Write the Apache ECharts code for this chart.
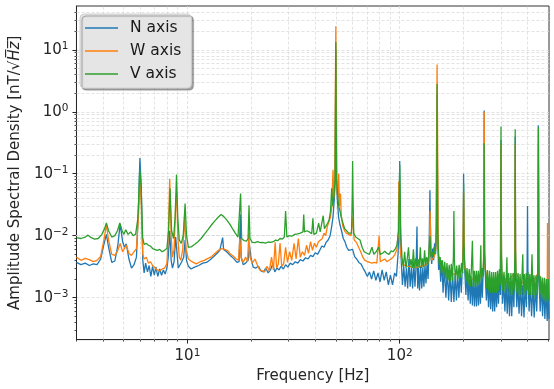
<!DOCTYPE html>
<html>
<head>
<meta charset="utf-8">
<script src="https://cdn.jsdelivr.net/npm/echarts@6/dist/echarts.min.js"></script>
<style>
  html, body { margin: 0; padding: 0; background: #fff; }
  #chart { width: 554px; height: 389px; }
</style>
</head>
<body>
<div id="chart"></div>
<script>
// axis ranges
const xRange = [3, 505];
const yRange = [2.1e-4, 51];
const majorX = [10, 100];
const majorY = [1e-3, 1e-2, 1e-1, 1, 10];
const minorX = [3, 4, 5, 6, 7, 8, 9, 20, 30, 40, 50, 60, 70, 80, 90, 200, 300, 400, 500];
const minorY = [3e-4, 4e-4, 5e-4, 6e-4, 7e-4, 8e-4, 9e-4,
  2e-3, 3e-3, 4e-3, 5e-3, 6e-3, 7e-3, 8e-3, 9e-3,
  2e-2, 3e-2, 4e-2, 5e-2, 6e-2, 7e-2, 8e-2, 9e-2,
  0.2, 0.3, 0.4, 0.5, 0.6, 0.7, 0.8, 0.9,
  2, 3, 4, 5, 6, 7, 8, 9, 20, 30, 40];

const seriesNames = ['N axis', 'W axis', 'V axis'];

// [frequency Hz, ASD nT/sqrt(Hz)]
const nAxis = [
  [3.0,0.0037],[3.15,0.0034],[3.3,0.0036],[3.45,0.0033],[3.6,0.0035],[3.75,0.0034],[3.9,0.0042],[4.05,0.0075],[4.15,0.0105],[4.25,0.0065],
  [4.4,0.0037],[4.55,0.0039],[4.7,0.007],[4.82,0.0155],[4.95,0.008],[5.05,0.0065],[5.15,0.0074],[5.3,0.0042],[5.45,0.003],[5.6,0.0034],
  [5.75,0.0045],[5.88,0.03],[5.97,0.18],[6.06,0.06],[6.16,0.004],[6.25,0.0025],[6.35,0.0036],[6.48,0.0026],[6.6,0.0033],[6.72,0.0022],
  [6.85,0.0032],[6.98,0.0023],[7.1,0.0031],[7.25,0.0022],[7.4,0.0029],[7.55,0.0023],[7.7,0.0028],[7.85,0.0024],[8.0,0.003],[8.12,0.0045],
  [8.25,0.012],[8.38,0.004],[8.5,0.003],[8.65,0.0038],[8.8,0.0095],[8.9,0.006],[9.05,0.003],[9.2,0.0028],[9.4,0.0038],[9.6,0.0045],
  [9.75,0.0085],[9.9,0.004],[10.1,0.0032],[10.4,0.0029],[10.8,0.0031],[11.3,0.0033],[11.8,0.0036],[12.3,0.0037],[12.8,0.0041],[13.3,0.0046],
  [13.8,0.0052],[14.2,0.0058],[14.5,0.0061],[14.65,0.0093],[14.8,0.006],[15.3,0.0055],[15.9,0.0048],[16.5,0.0043],[17.1,0.0037],[17.5,0.0038],
  [17.75,0.022],[17.9,0.0045],[18.3,0.0034],[18.8,0.0036],[19.3,0.004],[19.6,0.007],[19.9,0.0045],[20.4,0.0031],[21.0,0.003],[21.6,0.0032],
  [22.2,0.0027],[22.8,0.0026],[23.4,0.003],[24.0,0.0025],[24.6,0.0028],[25.2,0.0035],[25.8,0.0026],[26.4,0.003],[27.0,0.0028],[27.6,0.0032],
  [28.3,0.0029],[29.0,0.0034],[29.7,0.0031],[30.5,0.0036],[31.3,0.0034],[32.2,0.0038],[33.1,0.0036],[34.0,0.0041],[35.0,0.0039],[36.0,0.0044],
  [37.0,0.0042],[38.0,0.0048],[39.0,0.0046],[40.0,0.0053],[41.0,0.005],[42.0,0.0058],[43.0,0.0068],[44.0,0.0065],[45.0,0.0078],[46.0,0.0085],
  [47.0,0.01],[47.8,0.014],[48.5,0.02],[49.2,0.04],[49.7,0.08],[50.0,10.0],[50.3,0.08],[50.8,0.04],[51.5,0.02],[52.3,0.015],
  [53.2,0.012],[54.2,0.009],[55.2,0.008],[56.3,0.0065],[57.5,0.0058],[58.7,0.0055],[60.0,0.006],[61.3,0.0046],[62.7,0.0042],[64.2,0.0037],
  [65.7,0.0035],[67.2,0.003],[68.8,0.0026],[70.4,0.0022],[72.0,0.0026],[73.7,0.002],[75.4,0.0027],[77.2,0.0019],[79.0,0.0025],[80.8,0.0018],
  [82.6,0.0028],[84.5,0.0019],[86.4,0.0026],[88.4,0.0016],[90.4,0.0023],[92.5,0.0016],[94.6,0.0025],[96.5,0.0022],[98.2,0.005],[99.5,0.02],
  [100.0,0.16],[100.5,0.02],[101.5,0.0045],[103,0.0016],[104.5,0.0032],[106,0.0015],[107.5,0.003],[109,0.0014],[110.5,0.0042],[112,0.0015],
  [113.5,0.0031],[115,0.0014],[116.5,0.0038],[118,0.0015],[119.5,0.0034],[120.6,0.014],[121.5,0.0014],[122.5,0.003],[124,0.0013],[125.5,0.0032],
  [127,0.0014],[128.5,0.0031],[130,0.0015],[131.5,0.0034],[133,0.0017],[134.5,0.0036],[136,0.002],[137.5,0.006],[138.8,0.054],[140,0.005],
  [141.5,0.0035],[143,0.0062],[144.5,0.004],[146,0.0075],[147.5,0.005],[148.8,0.01],[150,2.0],[151.2,0.008],[152.5,0.0028],[154,0.0045],
  [156,0.0018],[158,0.004],[160,0.0012],[162.5,0.003],[165,0.001],[167.5,0.0028],[170,0.0009],[172.5,0.0026],[175,0.00085],[177.5,0.0025],
  [180,0.00085],[182.5,0.0024],[185,0.0009],[187.5,0.0025],[190,0.001],[192.5,0.0028],[195,0.0012],[197.5,0.0035],[199.2,0.006],[200,0.1],
  [200.8,0.006],[202.5,0.0028],[205,0.0011],[207.5,0.0026],[210,0.0009],[212.5,0.0024],[215,0.0008],[217.5,0.0022],[220,0.00075],[222.5,0.0021],
  [225,0.00072],[227.5,0.002],[230,0.00072],[232.5,0.0021],[235,0.00075],[237.5,0.0021],[240,0.0008],[242.5,0.0024],[245,0.001],[247.5,0.003],
  [249.2,0.005],[250,1.05],[250.8,0.005],[253,0.0024],[256,0.0009],[259,0.0021],[262,0.0007],[265,0.002],[268,0.00065],[271,0.0019],
  [274,0.0006],[277,0.0018],[280,0.0006],[283,0.0019],[286,0.0007],[289,0.0021],[292,0.0008],[295,0.0025],[298,0.0011],[300,0.35],
  [302,0.0025],[305,0.0008],[309,0.0019],[313,0.0006],[317,0.0018],[321,0.00055],[325,0.0017],[329,0.0005],[333,0.0017],[337,0.0005],
  [341,0.0018],[345,0.0007],[348,0.0024],[350,0.4],[352,0.0022],[356,0.0007],[360,0.0018],[365,0.00055],[370,0.0017],[375,0.0005],
  [380,0.0016],[385,0.00048],[390,0.0017],[395,0.0007],[398,0.0025],[400,0.03],[402,0.0022],[407,0.0006],[412,0.0017],[418,0.0005],
  [424,0.0016],[430,0.00048],[436,0.0016],[442,0.0006],[447,0.0022],[450,0.6],[453,0.0022],[459,0.0006],[465,0.0017],[471,0.0005],
  [477,0.0016],[483,0.00045],[489,0.0015],[495,0.00042],[501,0.0014],[505,0.00045]
];

const wAxis = [
  [3.0,0.0045],[3.15,0.004],[3.3,0.0043],[3.45,0.0041],[3.6,0.0038],[3.75,0.004],[3.9,0.0046],[4.05,0.009],[4.15,0.015],[4.25,0.0085],
  [4.4,0.005],[4.55,0.0048],[4.7,0.0058],[4.82,0.0075],[4.95,0.0055],[5.05,0.0058],[5.15,0.007],[5.3,0.0052],[5.45,0.0048],[5.6,0.0055],
  [5.75,0.0062],[5.88,0.02],[5.97,0.083],[6.06,0.03],[6.16,0.005],[6.25,0.0042],[6.4,0.0045],[6.55,0.0036],[6.7,0.0038],[6.85,0.0033],
  [7.0,0.0032],[7.2,0.0028],[7.4,0.0027],[7.6,0.0029],[7.8,0.003],[8.0,0.0035],[8.12,0.01],[8.25,0.083],[8.38,0.01],[8.5,0.0045],
  [8.65,0.006],[8.8,0.03],[8.9,0.05],[9.0,0.01],[9.15,0.0045],[9.3,0.004],[9.5,0.006],[9.7,0.02],[9.85,0.006],[10.1,0.0042],
  [10.5,0.0038],[11.0,0.0035],[11.5,0.0038],[12.0,0.004],[12.5,0.0043],[13.0,0.0046],[13.5,0.0052],[14.0,0.0058],[14.5,0.0062],[15.0,0.006],
  [15.5,0.0057],[16.0,0.005],[16.5,0.0046],[17.0,0.0042],[17.4,0.004],[17.65,0.009],[17.9,0.0045],[18.3,0.0037],[18.8,0.0045],[19.2,0.0038],
  [19.45,0.011],[19.7,0.0045],[20.2,0.0036],[20.8,0.0042],[21.4,0.0033],[21.9,0.0028],[22.5,0.0027],[23.1,0.0026],[23.7,0.0032],[24.3,0.0027],
  [24.9,0.0045],[25.4,0.0028],[25.9,0.0078],[26.3,0.003],[26.8,0.0035],[27.3,0.0076],[27.8,0.0032],[28.4,0.0035],[29.0,0.0065],[29.6,0.0037],
  [30.3,0.0055],[31.0,0.004],[31.8,0.0075],[32.5,0.0042],[33.3,0.009],[34.0,0.0045],[34.8,0.0055],[35.6,0.0048],[36.4,0.007],[37.2,0.0052],
  [38.0,0.008],[38.8,0.0058],[39.6,0.0075],[40.5,0.0065],[41.4,0.008],[42.3,0.0085],[43.2,0.009],[44.0,0.011],[44.8,0.01],[45.6,0.014],
  [46.4,0.013],[47.2,0.02],[47.9,0.03],[48.5,0.116],[48.9,0.04],[49.4,0.06],[50.0,24],[50.6,0.06],[51.1,0.04],[51.6,0.1],
  [52.0,0.03],[52.6,0.048],[53.1,0.02],[54.0,0.014],[55.0,0.012],[56.0,0.011],[57.5,0.0105],[59.0,0.01],[60.0,0.02],[61.0,0.0085],
  [62.5,0.0078],[64.0,0.0065],[65.5,0.0055],[67.0,0.0045],[68.5,0.004],[70.0,0.0038],[72.0,0.0037],[74.0,0.0036],[76.0,0.0037],[78.0,0.0036],
  [80.0,0.01],[81.0,0.0038],[83.0,0.004],[85.0,0.0042],[87.0,0.0038],[89.0,0.004],[91.0,0.0042],[93.0,0.0045],[95.0,0.005],[97.0,0.006],
  [98.5,0.012],[99.0,0.075],[99.6,0.01],[101.0,0.005],[103.0,0.0035],[106,0.0033],[110,0.0032],[115,0.0031],[120,0.0031],[125,0.0032],
  [130,0.0033],[135,0.0035],[137.5,0.004],[139,0.025],[141,0.004],[145,0.0045],[148,0.006],[150,5.8],[152,0.005],[155,0.0035],
  [160,0.0028],[170,0.0025],[180,0.0024],[190,0.0025],[198,0.003],[200,0.05],[202,0.003],[210,0.0022],[220,0.002],[240,0.0021],
  [248,0.003],[250,1.0],[252,0.003],[260,0.002],[280,0.0018],[298,0.0025],[300,0.3],[302,0.0025],[320,0.0018],[348,0.0025],
  [350,0.3],[352,0.0025],[380,0.0017],[420,0.0016],[448,0.0025],[450,0.3],[452,0.0025],[470,0.0015],[490,0.0015],[495.5,0.0018],
  [497,0.016],[498.5,0.0018],[505,0.0015]
];

const vAxis = [
  [3.0,0.0093],[3.15,0.009],[3.3,0.0095],[3.4,0.0102],[3.5,0.0094],[3.65,0.0088],[3.8,0.009],[3.95,0.0105],[4.07,0.013],[4.15,0.016],
  [4.25,0.012],[4.4,0.0095],[4.55,0.01],[4.68,0.012],[4.8,0.016],[4.92,0.012],[5.02,0.0105],[5.12,0.0125],[5.25,0.0105],[5.4,0.0115],
  [5.55,0.01],[5.7,0.0105],[5.85,0.02],[5.96,0.12],[6.05,0.06],[6.15,0.0095],[6.25,0.0072],[6.4,0.0075],[6.55,0.007],[6.7,0.0068],
  [6.85,0.0062],[7.0,0.0064],[7.2,0.0058],[7.4,0.006],[7.6,0.0055],[7.8,0.0058],[8.0,0.0062],[8.15,0.012],[8.28,0.058],[8.42,0.012],
  [8.6,0.009],[8.75,0.02],[8.88,0.097],[9.0,0.02],[9.15,0.0085],[9.35,0.0075],[9.55,0.01],[9.75,0.033],[9.9,0.01],[10.1,0.0065],
  [10.4,0.0066],[10.8,0.0072],[11.2,0.008],[11.6,0.009],[12.0,0.0105],[12.5,0.0125],[13.0,0.015],[13.5,0.0175],[14.0,0.02],[14.4,0.022],
  [14.8,0.0205],[15.3,0.018],[15.8,0.0155],[16.3,0.013],[16.8,0.011],[17.3,0.0095],[17.6,0.009],[17.8,0.048],[18.0,0.009],[18.5,0.0083],
  [19.0,0.0082],[19.3,0.009],[19.5,0.031],[19.7,0.009],[20.2,0.0078],[20.8,0.0077],[21.4,0.008],[22.0,0.0077],[22.6,0.0078],[23.3,0.0076],
  [24.0,0.0079],[24.7,0.0078],[25.4,0.008],[26.0,0.0085],[26.6,0.0083],[27.3,0.009],[28.0,0.0088],[28.6,0.0095],[29.0,0.025],[29.4,0.0095],
  [30.2,0.01],[31.0,0.0098],[32.0,0.0105],[33.0,0.0107],[34.0,0.011],[35.0,0.0115],[35.3,0.022],[35.6,0.0115],[36.5,0.012],[37.5,0.0115],
  [38.5,0.0108],[39.0,0.019],[39.4,0.0105],[40.5,0.011],[41.5,0.016],[42.2,0.0115],[43.0,0.012],[43.6,0.021],[44.2,0.013],[45.0,0.014],
  [45.8,0.016],[46.5,0.018],[47.2,0.025],[47.8,0.058],[48.4,0.03],[49.0,0.045],[49.6,0.08],[50.0,13.4],[50.4,0.08],[51.0,0.045],
  [51.6,0.03],[52.3,0.025],[53.0,0.02],[54.0,0.016],[55.0,0.013],[56.2,0.012],[57.5,0.011],[59.3,0.011],[59.8,0.05],[60.0,0.16],
  [60.2,0.05],[60.7,0.011],[62.0,0.0095],[63.5,0.009],[65.0,0.0085],[66.5,0.0065],[68.0,0.0055],[70.0,0.0052],[72.0,0.005],[74.0,0.0065],
  [75.5,0.005],[77.5,0.0055],[79.5,0.0065],[81.0,0.005],[83.0,0.0052],[85.0,0.0056],[87.0,0.0052],[89.0,0.005],[91.0,0.0057],[93.0,0.0055],
  [95.0,0.006],[97.0,0.007],[98.8,0.012],[100.0,0.14],[101.2,0.01],[102.5,0.0045],[104,0.0031],[105.5,0.0055],[107,0.003],[108.5,0.0042],
  [110,0.0065],[111.5,0.0031],[113,0.0042],[114.5,0.003],[116,0.006],[117.5,0.003],[119,0.0043],[120.5,0.0032],[122,0.0042],[123.5,0.003],
  [125,0.0065],[126.5,0.003],[128,0.0043],[129.5,0.0031],[131,0.0058],[132.5,0.0033],[134,0.0045],[135.5,0.0035],[137,0.0048],[138.8,0.01],
  [140.5,0.0045],[142,0.0055],[143.5,0.0045],[145,0.0065],[146.5,0.005],[148,0.0075],[149.2,0.015],[150,2.8],[150.8,0.015],[152,0.006],
  [153.5,0.0035],[155,0.0045],[157,0.0025],[159,0.004],[161,0.0022],[163,0.0038],[165,0.002],[167,0.0036],[169,0.0019],[171,0.0034],
  [173,0.0018],[175,0.0035],[177,0.0019],[179,0.0045],[180,0.025],[181,0.004],[183,0.0019],[185.5,0.0033],[188,0.002],[190.5,0.0034],
  [193,0.0021],[195.5,0.0036],[198,0.0025],[199.3,0.008],[200,0.07],[200.7,0.008],[202.5,0.0035],[205,0.0018],[207.5,0.003],[210,0.0016],
  [212.5,0.0029],[215,0.0015],[217.5,0.0028],[220,0.0083],[222,0.0015],[224.5,0.0027],[227,0.0015],[229.5,0.0027],[232,0.0015],[234.5,0.0027],
  [237,0.0016],[239.5,0.0029],[241,0.007],[242.5,0.0018],[245,0.003],[247.5,0.0022],[249.3,0.006],[250,0.31],[250.7,0.006],[253,0.003],
  [256,0.0014],[259,0.0028],[262,0.0013],[265,0.0027],[268,0.0012],[271,0.0026],[274,0.0012],[277,0.0026],[280,0.0012],[283,0.0026],
  [286,0.0012],[289,0.0027],[292,0.0013],[295,0.0029],[298,0.0016],[299.4,0.006],[300,0.58],[300.6,0.006],[303,0.0028],[306,0.0013],
  [310,0.0026],[314,0.0012],[318,0.0025],[320,0.0045],[322,0.0012],[326,0.0025],[330,0.0011],[334,0.0025],[338,0.0011],[342,0.0025],
  [346,0.0013],[349.3,0.006],[350,0.52],[350.7,0.006],[353,0.0026],[357,0.0012],[361,0.0025],[365,0.0011],[369,0.0024],[373,0.0011],
  [377,0.0024],[380,0.005],[383,0.0011],[387,0.0024],[391,0.0011],[395,0.0025],[398,0.0013],[402,0.0026],[406,0.0011],[410,0.0024],
  [415,0.0011],[420,0.005],[424,0.0011],[429,0.0023],[434,0.001],[439,0.0023],[444,0.0011],[448,0.004],[450,0.56],[452,0.004],
  [456,0.0011],[461,0.0022],[466,0.00095],[471,0.0021],[476,0.0009],[481,0.0021],[486,0.00085],[491,0.002],[496,0.00085],[501,0.002],
  [505,0.0009]
];

const colors = ['#1f77b4', '#ff7f0e', '#2ca02c'];
const gridLine = { color: '#dcdcdc', width: 0.8, type: [3, 2] };
const font = 'DejaVu Sans';
const ink = '#262626';

function powLabel(v) {
  const e = Math.round(Math.log10(v));
  if (Math.abs(Math.log10(v) - e) > 1e-6) return '';
  return '10{sup|' + (e < 0 ? '\u2212' + (-e) : e) + '}';
}

const labelRich = {
  sup: { fontSize: 10.5, fontFamily: font, color: ink, verticalAlign: 'bottom', padding: [0, 0, 7, 0] }
};

// main log axis (major ticks, labels, major grid)
function mainAxis(range, majors, pos, extra) {
  return Object.assign({
    type: 'log',
    logBase: 10,
    position: pos,
    min: range[0],
    max: range[1],
    nameLocation: 'middle',
    axisLine: { show: true, lineStyle: { color: ink, width: 1 } },
    axisTick: { show: true, inside: false, length: 4, customValues: majors, lineStyle: { color: ink } },
    axisLabel: { formatter: powLabel, customValues: majors, fontFamily: font, fontSize: 15, color: ink, rich: labelRich },
    splitLine: { show: true, lineStyle: gridLine }
  }, extra);
}

// overlaid axis drawing only the short minor ticks, same side as the main one
function minorAxis(range, minors, pos) {
  return {
    type: 'log',
    logBase: 10,
    position: pos,
    min: range[0],
    max: range[1],
    axisLine: { show: false },
    axisTick: { show: true, inside: false, length: 2, customValues: minors, lineStyle: { color: ink, width: 0.8 } },
    axisLabel: { show: false },
    splitLine: { show: false }
  };
}

const chart = echarts.init(document.getElementById('chart'));

const lineSeries = [nAxis, wAxis, vAxis].map((d, i) => ({
  name: seriesNames[i],
  type: 'line',
  data: d,
  showSymbol: false,
  symbol: 'none',
  lineStyle: { width: 1.3, color: colors[i] },
  itemStyle: { color: colors[i] },
  z: 2,
  animation: false
}));

chart.setOption({
  animation: false,
  color: colors,
  grid: {
    left: 71, right: 5, top: 6, bottom: 43,
    show: true, borderColor: '#333', borderWidth: 1, backgroundColor: 'transparent'
  },
  legend: {
    data: seriesNames.map(n => ({ name: n, icon: 'path://M0,0 L32,0 L32,1.5 L0,1.5 Z' })),
    orient: 'vertical',
    left: 80, top: 14,
    z: 10,
    padding: [6, 10, 6, 5],
    itemGap: 7,
    itemWidth: 33,
    itemHeight: 2,
    formatter: name => '{t|' + name + '}',
    backgroundColor: '#e5e5e5',
    borderColor: '#d0d0d0',
    borderWidth: 1,
    borderRadius: 4,
    shadowColor: 'rgba(0,0,0,0.35)',
    shadowOffsetX: 2,
    shadowOffsetY: 2,
    shadowBlur: 1,
    textStyle: {
      fontFamily: font, fontSize: 15.5, color: '#1a1a1a', lineHeight: 16,
      rich: { t: { fontFamily: font, fontSize: 15.5, color: '#1a1a1a', lineHeight: 16, padding: [0, 0, 0, 7] } }
    }
  },
  xAxis: [
    mainAxis(xRange, majorX, 'bottom', {
      name: 'Frequency [Hz]',
      nameGap: 23,
      nameTextStyle: { fontFamily: font, fontSize: 15, color: ink }
    }),
    minorAxis(xRange, minorX, 'bottom')
  ],
  yAxis: [
    mainAxis(yRange, majorY, 'left', {
      name: 'Amplitude Spectral Density [nT/\u221A{it|H\u0305z\u0305}]',
      nameGap: 46,
      nameTextStyle: {
        fontFamily: font, fontSize: 15, color: ink,
        rich: { it: { fontFamily: font, fontSize: 15, fontStyle: 'italic', color: ink } }
      }
    }),
    minorAxis(yRange, minorY, 'left')
  ],
  series: [
    {
      name: 'minor grid',
      type: 'line',
      data: [],
      silent: true,
      z: 1,
      markLine: {
        silent: true,
        z: 1,
        symbol: 'none',
        animation: false,
        label: { show: false },
        lineStyle: gridLine,
        data: minorX.slice(1, -1).map(v => ({ xAxis: v })).concat(minorY.map(v => ({ yAxis: v })))
      }
    },
    ...lineSeries
  ]
});
</script>
</body>
</html>
